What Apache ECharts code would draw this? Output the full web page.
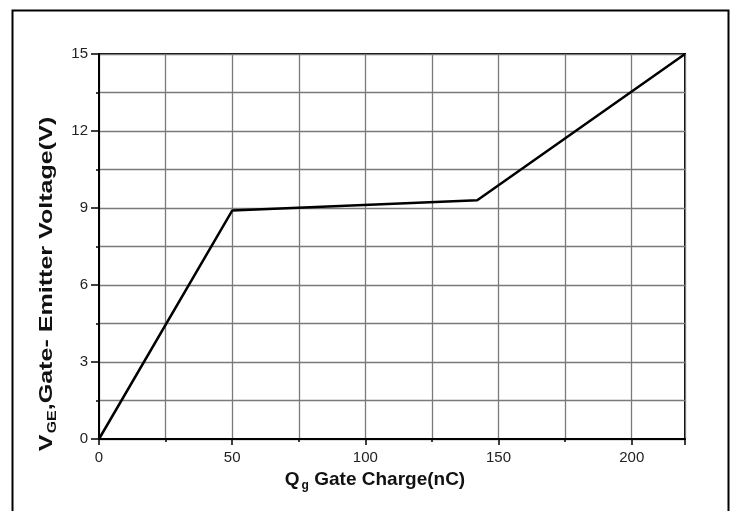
<!DOCTYPE html>
<html>
<head>
<meta charset="utf-8">
<script src="https://cdn.jsdelivr.net/npm/echarts@6/dist/echarts.min.js"></script>
<style>html,body{margin:0;padding:0;background:#fff;}#c{width:735px;height:511px;}</style>
</head>
<body>
<div id="c"></div>
<script>
// Data
const gateCharge = [0, 50, 142, 220];          // Qg (nC)
const gateVoltage = [0, 8.9, 9.3, 15];          // VGE (V)
const xTicks = [0, 50, 100, 150, 200];
const yTicks = [0, 3, 6, 9, 12, 15];

const points = gateCharge.map((q, i) => [q, gateVoltage[i]]);
const FONT = '"Liberation Sans", Arial, sans-serif';

const chart = echarts.init(document.getElementById('c'), null, {renderer: 'canvas'});
chart.setOption({
  animation: false,
  backgroundColor: '#fff',
  grid: {left: 99, top: 54, right: 50, bottom: 72, show: true, borderColor: '#000', borderWidth: 2, backgroundColor: 'transparent'},
  xAxis: {
    type: 'value', min: 0, max: 220, interval: 50,
    axisLine: {show: true, onZero: false, lineStyle: {color: '#000', width: 2}},
    axisTick: {show: true, inside: false, length: 6, lineStyle: {color: '#000', width: 1.5}},
    minorTick: {show: true, splitNumber: 2, length: 3, lineStyle: {color: '#000', width: 1.5}},
    splitLine: {show: true, lineStyle: {color: '#7a7a7a', width: 1.3}},
    minorSplitLine: {show: true, lineStyle: {color: '#7a7a7a', width: 1.3}},
    axisLabel: {show: true, color: '#222', fontFamily: FONT, fontSize: 15, margin: 11, showMaxLabel: false,
      formatter: v => xTicks.includes(v) ? String(v) : ''}
  },
  yAxis: {
    type: 'value', min: 0, max: 15, interval: 3,
    axisLine: {show: true, onZero: false, lineStyle: {color: '#000', width: 2}},
    axisTick: {show: true, inside: false, length: 8, lineStyle: {color: '#000', width: 1.5}},
    minorTick: {show: true, splitNumber: 2, length: 3, lineStyle: {color: '#000', width: 1.5}},
    splitLine: {show: true, lineStyle: {color: '#7a7a7a', width: 1.3}},
    minorSplitLine: {show: true, lineStyle: {color: '#7a7a7a', width: 1.3}},
    axisLabel: {show: true, color: '#222', fontFamily: FONT, fontSize: 15, margin: 11,
      formatter: v => yTicks.includes(v) ? String(v) : ''}
  },
  series: [{
    type: 'line', data: points, showSymbol: false, symbol: 'none',
    lineStyle: {color: '#000', width: 2.5}, z: 5
  }],
  graphic: [
    {type: 'rect', left: 10, top: 8, shape: {width: 716, height: 520}, style: {fill: 'none', stroke: '#000', lineWidth: 2}, silent: true},
    {type: 'text', x: 375, y: 480, style: {
      text: '{b|Q}{s|g}{b| Gate Charge(nC)}', align: 'center', verticalAlign: 'middle',
      rich: {
        b: {fontFamily: FONT, fontWeight: 'bold', fontSize: 19, fill: '#111'},
        s: {fontFamily: FONT, fontWeight: 'bold', fontSize: 12, fill: '#111', padding: [11, 0, 0, 2]}
      }
    }},
    {type: 'text', x: 47, y: 284, rotation: Math.PI / 2, scaleX: 1.32, scaleY: 1, style: {
      text: '{b|V}{s|GE}{b|,Gate- Emitter Voltage(V)}', align: 'center', verticalAlign: 'middle',
      rich: {
        b: {fontFamily: FONT, fontWeight: 'bold', fontSize: 19, fill: '#111'},
        s: {fontFamily: FONT, fontWeight: 'bold', fontSize: 12, fill: '#111', padding: [11, 0, 0, 1]}
      }
    }}
  ]
});
</script>
</body>
</html>
